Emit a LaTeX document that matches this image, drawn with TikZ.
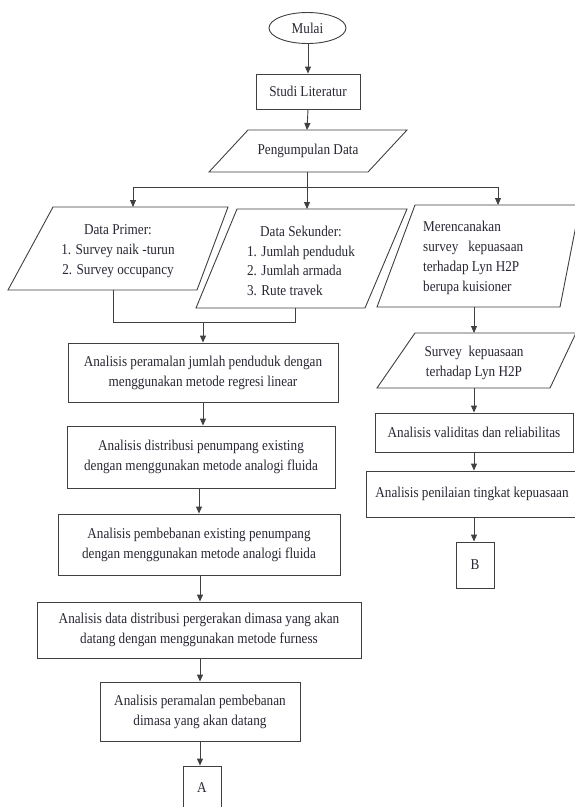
\documentclass[tikz,border=0pt]{standalone}
\usepackage{fontspec}
\setmainfont{Liberation Serif}[FakeStretch=0.88]
\usetikzlibrary{shapes.geometric,arrows.meta}
\definecolor{ln}{RGB}{64,64,64}
\definecolor{txt}{RGB}{40,40,52}
\newcommand\dfont{\fontsize{15}{20}\selectfont}
\tikzset{
  base/.style={font=\dfont, text=txt, align=center, inner sep=0pt},
  procbox/.style={base, draw=ln, line width=0.9pt, fill=white},
  iobox/.style={draw=ln, line width=0.9pt, fill=white},
  arr/.style={draw=ln, line width=0.9pt, -{Triangle[length=7pt,width=6pt]}},
  lnk/.style={draw=ln, line width=0.9pt}
}
\begin{document}
\begin{tikzpicture}[x=1pt,y=-1pt]
\useasboundingbox (0,0) rectangle (575,807);
\fill[white] (0,0) rectangle (575,807);

% start
\node[base, ellipse, draw=ln, line width=0.9pt, minimum width=77pt, minimum height=31pt] (mulai) at (307.5,28) {Mulai};
\node[procbox, minimum width=104pt, minimum height=35pt] (studi) at (308,91.5) {Studi Literatur};

% Pengumpulan Data
\draw[iobox] (209,172) -- (248,130) -- (407,130) -- (368,172) -- cycle;
\node[base] (peng) at (308,151) {Pengumpulan Data};
\coordinate (pengtop) at (307,130);
\coordinate (pengbot) at (307,172);
\coordinate (splitc) at (307,187);
\coordinate (splitl) at (133,187);
\coordinate (splitr) at (498,187);

% Data Primer
\draw[iobox] (53,207) -- (228,207) -- (197,290) -- (8,290) -- cycle;
\node[base] (primer) at (118,251) {Data Primer:\\1. Survey naik -turun\\2. Survey occupancy};
\coordinate (primertop) at (133,207);
\coordinate (primerbot) at (113,290);

% Data Sekunder
\draw[iobox] (237,209) -- (407,209) -- (365,308) -- (196,308) -- cycle;
\node[base] (sekunder) at (301,262) {\begin{tabular}{@{}l@{}}\multicolumn{1}{@{}c@{}}{Data Sekunder:}\\[-0.5pt]1. Jumlah penduduk\\[-0.5pt]2. Jumlah armada\\[-0.5pt]3. Rute travek\end{tabular}};
\coordinate (sekundertop) at (307,209);
\coordinate (sekunderbot) at (295,308);

% Merencanakan
\draw[iobox] (415,205) -- (580,205) -- (560,307) -- (377,307) -- cycle;
\node[base, align=left, anchor=west] (renc) at (423,258) {Merencanakan\\survey\ \ \ kepuasaan\\terhadap Lyn H2P\\berupa kuisioner};
\coordinate (renctop) at (498,205);
\coordinate (rencbot) at (474,307);

% Survey kepuasaan
\draw[iobox] (415,333) -- (576,333) -- (550,388) -- (377,388) -- cycle;
\node[base] (surv) at (474,363) {Survey\ \ kepuasaan\\terhadap Lyn H2P};
\coordinate (survtop) at (474,333);
\coordinate (survbot) at (474,388);

% merge
\coordinate (mergel) at (113,322);
\coordinate (merger) at (295,322);
\coordinate (mergec) at (203,322);

% left column boxes
\node[procbox, minimum width=270pt, minimum height=59pt] (b1) at (203,372.5) {Analisis peramalan jumlah penduduk dengan\\menggunakan metode regresi  linear};
\node[procbox, minimum width=268pt, minimum height=62pt] (b2) at (201,457) {Analisis distribusi penumpang existing\\dengan menggunakan metode analogi fluida};
\node[procbox, minimum width=282pt, minimum height=61pt] (b3) at (199,544.5) {Analisis pembebanan existing penumpang\\dengan menggunakan metode analogi fluida};
\node[procbox, minimum width=324pt, minimum height=56pt] (b4) at (199,630) {Analisis data distribusi pergerakan dimasa yang akan\\datang dengan menggunakan metode furness};
\node[procbox, minimum width=200pt, minimum height=59pt] (b5) at (200,711.5) {Analisis peramalan pembebanan\\dimasa yang akan datang};
\node[procbox, minimum width=38pt, minimum height=44pt] (ka) at (202,788) {A};

% right column boxes
\node[procbox, minimum width=198pt, minimum height=39pt] (valid) at (474,432.5) {Analisis validitas dan reliabilitas};
\node[procbox, minimum width=212pt, minimum height=46pt] (nilai) at (472,494) {Analisis penilaian tingkat kepuasaan};
\node[procbox, minimum width=38pt, minimum height=46pt] (kb) at (475,565) {B};

% connectors
\draw[arr] (mulai.south -| studi.north) -- (studi.north);
\draw[arr] (studi.south) -- (pengtop);
\draw[lnk] (pengbot) -- (splitc);
\draw[lnk] (splitl) -- (splitr);
\draw[arr] (splitl) -- (primertop);
\draw[arr] (splitc) -- (sekundertop);
\draw[arr] (splitr) -- (renctop);
\draw[lnk] (primerbot) -- (mergel) -- (merger) -- (sekunderbot);
\draw[arr] (mergec) -- (mergec |- b1.north);
\draw[arr] (b1.south) -- (b1.south |- b2.north);
\draw[arr] (b2.south -| b4.south) -- (b3.north -| b4.south);
\draw[arr] (b3.south -| b5.north) -- (b4.north -| b5.north);
\draw[arr] (b4.south -| b5.north) -- (b5.north);
\draw[arr] (b5.south) -- (b5.south |- ka.north);
\draw[arr] (rencbot) -- (survtop);
\draw[arr] (survbot) -- (valid.north);
\draw[arr] (valid.south) -- (valid.south |- nilai.north);
\draw[arr] (nilai.south -| valid.south) -- (valid.south |- kb.north);
\end{tikzpicture}
\end{document}
